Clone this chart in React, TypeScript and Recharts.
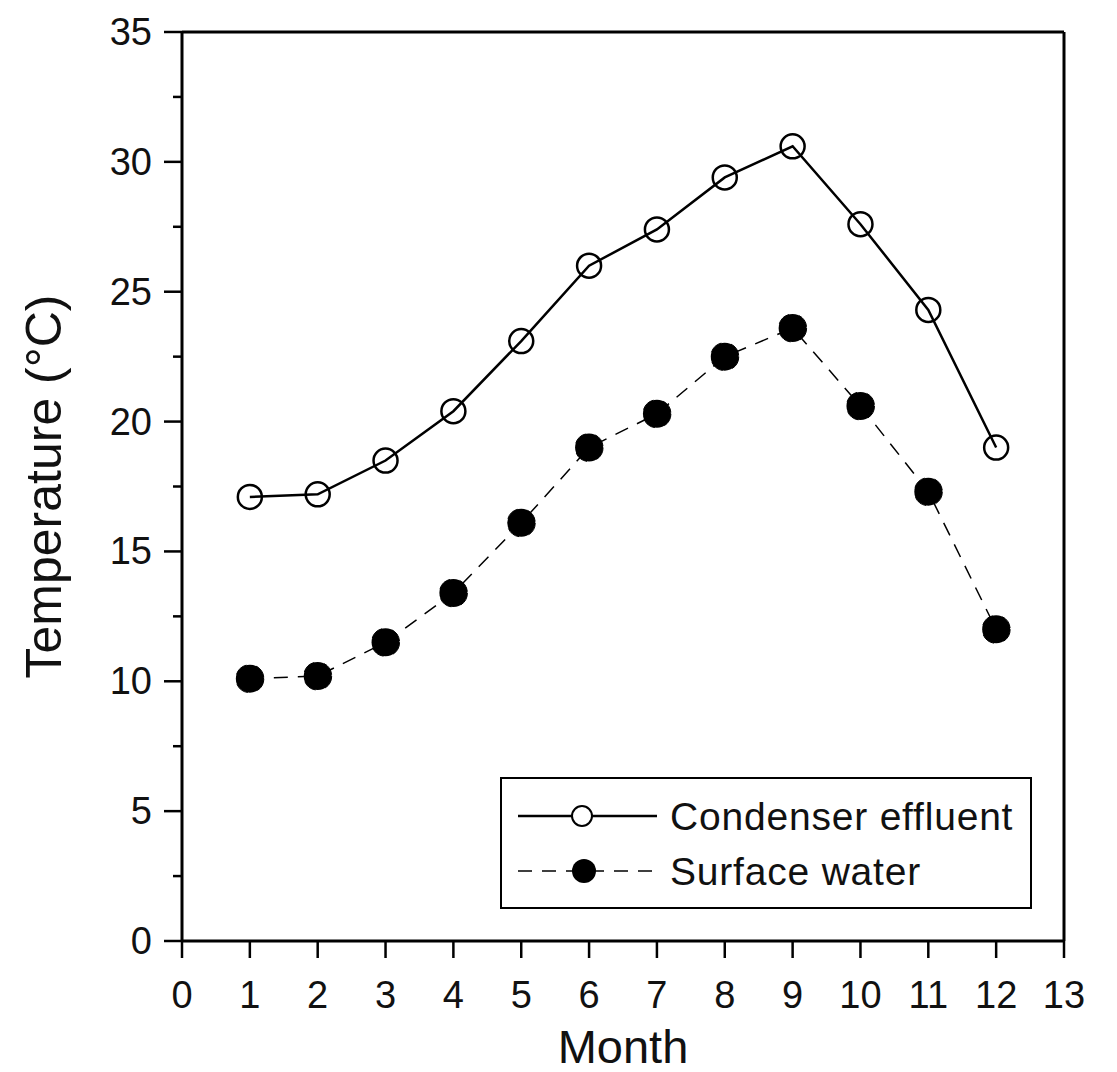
import { LineChart, Line, XAxis, YAxis, ReferenceLine, Label } from "recharts";

const MONTHS = [1, 2, 3, 4, 5, 6, 7, 8, 9, 10, 11, 12];
const CONDENSER = [17.1, 17.2, 18.5, 20.4, 23.1, 26.0, 27.4, 29.4, 30.6, 27.6, 24.3, 19.0];
const SURFACE = [10.1, 10.2, 11.5, 13.4, 16.1, 19.0, 20.3, 22.5, 23.6, 20.6, 17.3, 12.0];
const X_TICKS = [0, 1, 2, 3, 4, 5, 6, 7, 8, 9, 10, 11, 12, 13];
const Y_TICKS = [0, 2.5, 5, 7.5, 10, 12.5, 15, 17.5, 20, 22.5, 25, 27.5, 30, 32.5, 35];

const FONT = '"Liberation Sans", Arial, Helvetica, sans-serif';

const data = MONTHS.map((m, i) => ({
  month: m,
  condenser: CONDENSER[i],
  surface: SURFACE[i],
}));

function YTick(props: any) {
  const { x, y, payload } = props;
  const major = payload.value % 5 === 0;
  return (
    <g>
      <line x1={x - (major ? 18 : 9)} x2={x} y1={y} y2={y} stroke="#000" strokeWidth={2.5} />
      {major && (
        <text x={x - 30} y={y} dy={13} textAnchor="end" fontSize={38} fontFamily={FONT} fill="#111">
          {payload.value}
        </text>
      )}
    </g>
  );
}

function XTick(props: any) {
  const { x, y, payload } = props;
  return (
    <g>
      <line x1={x} x2={x} y1={y} y2={y + 17} stroke="#000" strokeWidth={2.5} />
      <text x={x} y={y + 67} textAnchor="middle" fontSize={38} fontFamily={FONT} fill="#111">
        {payload.value}
      </text>
    </g>
  );
}

function Legend() {
  return (
    <div
      style={{
        position: "absolute",
        left: 500,
        top: 777,
        width: 528,
        height: 128,
        border: "2px solid #000",
        background: "#fff",
      }}
    >
      <svg width={528} height={128} style={{ position: "absolute", left: 0, top: 0 }}>
        <line x1={16} x2={155} y1={37} y2={37} stroke="#000" strokeWidth={2.5} />
        <circle cx={80} cy={37} r={10} fill="#fff" stroke="#000" strokeWidth={2} />
        <text x={168} y={37} dy={14} fontSize={39} letterSpacing={0.8} fontFamily={FONT} fill="#111">
          Condenser effluent
        </text>
        <line x1={16} x2={155} y1={92} y2={92} stroke="#000" strokeWidth={1.5} strokeDasharray="14 10" />
        <circle cx={82} cy={92} r={12} fill="#000" />
        <text x={168} y={92} dy={14} fontSize={39} letterSpacing={0.8} fontFamily={FONT} fill="#111">
          Surface water
        </text>
      </svg>
    </div>
  );
}

export default function App() {
  return (
    <div style={{ position: "absolute", left: 0, top: 0, width: 1117, height: 1072, background: "#fff" }}>
      <LineChart width={1117} height={1072} data={data} margin={{ top: 32, right: 53, left: 0, bottom: 0 }}>
        <XAxis
          dataKey="month"
          type="number"
          domain={[0, 13]}
          ticks={X_TICKS}
          interval={0}
          allowDataOverflow
          height={131}
          tickSize={0}
          tickMargin={0}
          tickLine={false}
          tick={<XTick />}
          axisLine={{ stroke: "#000", strokeWidth: 3 }}
        >
          <Label
            content={(p: any) => {
              const vb = p.viewBox;
              return (
                <text x={vb.x + vb.width / 2} y={vb.y + vb.height - 9} textAnchor="middle" fontSize={47} fontFamily={FONT} fill="#111">
                  Month
                </text>
              );
            }}
          />
        </XAxis>
        <YAxis
          type="number"
          domain={[0, 35]}
          ticks={Y_TICKS}
          interval={0}
          width={182}
          tickSize={0}
          tickMargin={0}
          tickLine={false}
          tick={<YTick />}
          axisLine={{ stroke: "#000", strokeWidth: 3 }}
        >
          <Label
            content={(p: any) => {
              const vb = p.viewBox;
              const cy = vb.y + vb.height / 2;
              return (
                <text
                  x={44}
                  y={cy}
                  transform={`rotate(-90 44 ${cy})`}
                  textAnchor="middle"
                  dominantBaseline="central"
                  fontSize={50}
                  fontFamily={FONT}
                  fill="#111"
                >
                  Temperature (°C)
                </text>
              );
            }}
          />
        </YAxis>
        <ReferenceLine y={35} stroke="#000" strokeWidth={3} />
        <ReferenceLine x={13} stroke="#000" strokeWidth={3} />
        <Line
          type="linear"
          dataKey="surface"
          stroke="#000"
          strokeWidth={1.5}
          strokeDasharray="14 10"
          dot={{ r: 14, fill: "#000", stroke: "#000", strokeWidth: 1 }}
          isAnimationActive={false}
        />
        <Line
          type="linear"
          dataKey="condenser"
          stroke="#000"
          strokeWidth={2.5}
          dot={{ r: 12, fill: "none", stroke: "#000", strokeWidth: 2.5 }}
          isAnimationActive={false}
        />
      </LineChart>
      <Legend />
    </div>
  );
}
